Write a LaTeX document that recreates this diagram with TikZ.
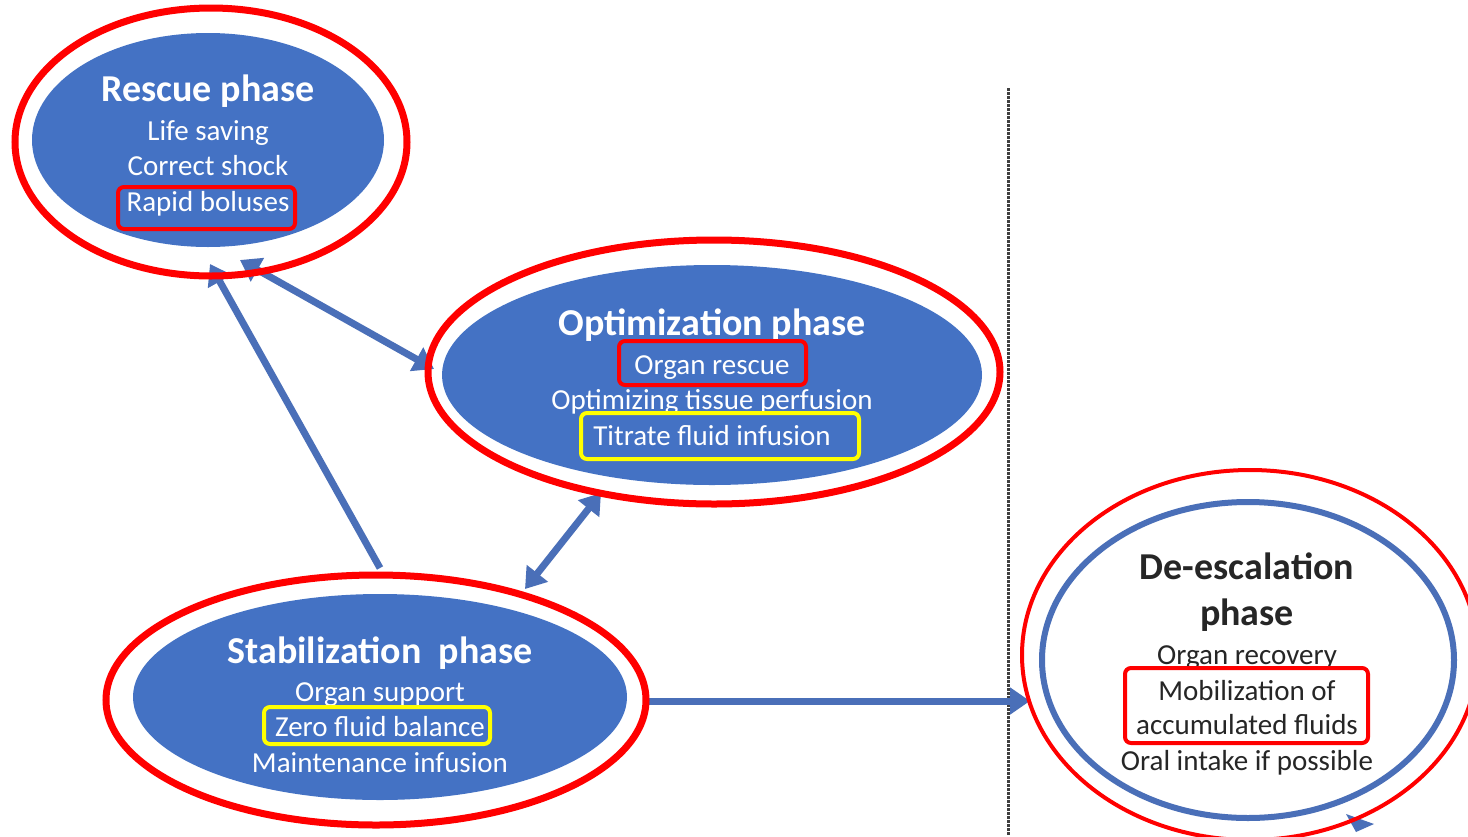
\documentclass[tikz,border=0pt]{standalone}
\usepackage{fontspec}
\setmainfont{Carlito}
\usetikzlibrary{shapes.geometric,arrows.meta}

\definecolor{phaseblue}{HTML}{4472C4}
\definecolor{arrowblue}{HTML}{4A6FB8}
\definecolor{markred}{HTML}{FF0000}
\definecolor{markyellow}{HTML}{FFFF00}
\definecolor{inktext}{HTML}{262626}

\tikzset{
  phase/.style={ellipse, fill=phaseblue, draw=none, inner sep=0pt},
  openphase/.style={ellipse, fill=white, draw=arrowblue, line width=6pt, inner sep=0pt},
  ring/.style={ellipse, draw=markred, line width=7pt, inner sep=0pt},
  thinring/.style={ring, line width=4pt},
  ttl/.style={font=\fontsize{38}{44}\selectfont\bfseries, anchor=base, text=white, inner sep=0pt},
  itm/.style={font=\fontsize{29}{34}\selectfont, anchor=base, text=white, inner sep=0pt},
  hl/.style={rectangle, rounded corners=6pt, line width=4pt, inner sep=0pt},
  flow/.style={line width=7pt, draw=arrowblue, -{Triangle[length=20pt,width=26pt]}},
  twoway/.style={line width=7pt, draw=arrowblue, {Triangle[length=20pt,width=26pt]}-{Triangle[length=20pt,width=26pt]}},
  divider/.style={draw=black!75, line width=3pt, dash pattern=on 2.5pt off 1.5pt},
}

\begin{document}
\begin{tikzpicture}[x=1pt, y=-1pt]
  \clip (0,0) rectangle (1468,836);
  \fill[white] (0,0) rectangle (1468,836);

  % phase-change divider
  \coordinate (divTop) at (1008,88);
  \coordinate (divBot) at (1008,836);
  \draw[divider] (divTop) -- (divBot);

  % connector end points
  \coordinate (stabOut) at (380,568);
  \coordinate (rescueIn) at (210,264);
  \coordinate (rescueOpt) at (240,260);
  \coordinate (optRescue) at (434,369);
  \coordinate (optStab) at (601,493);
  \coordinate (stabOpt) at (525,589);
  \coordinate (stabRight) at (648,701);
  \coordinate (deescIn) at (1030,701);

  \draw[flow] (stabOut) -- (rescueIn);
  \draw[twoway] (rescueOpt) -- (optRescue);
  \draw[twoway] (optStab) -- (stabOpt);
  \draw[flow] (stabRight) -- (deescIn);

  % phase ellipses
  \node[phase, minimum width=352, minimum height=214] (rescue) at (208,140) {};
  \node[phase, minimum width=540, minimum height=220] (optim) at (712,375) {};
  \node[phase, minimum width=494, minimum height=206] (stab) at (380,697) {};
  \node[openphase, minimum width=412, minimum height=316] (deesc) at (1248,660) {};

  % partly hidden tip below the de-escalation phase
  \fill[arrowblue] (1346,814) -- (1374,824) -- (1356,832) -- cycle;

  % rescue phase text
  \node[ttl] (rescueT) at (208,101) {Rescue phase};
  \node[itm] (rescue1) at (208,140) {Life saving};
  \node[itm] (rescue2) at (208,175) {Correct shock};
  \node[itm] (rescue3) at (208,211) {Rapid boluses};

  % optimization phase text
  \node[ttl] (optimT) at (712,335) {Optimization phase};
  \node[itm] (optim1) at (712,374) {Organ rescue};
  \node[itm] (optim2) at (712,409) {Optimizing tissue perfusion};
  \node[itm] (optim3) at (712,445) {Titrate fluid infusion};

  % stabilization phase text
  \node[ttl] (stabT) at (380,663) {Stabilization\ \ phase};
  \node[itm] (stab1) at (380,701) {Organ support};
  \node[itm] (stab2) at (380,736) {Zero fluid balance};
  \node[itm] (stab3) at (380,772) {Maintenance infusion};

  % de-escalation phase text
  \node[ttl, text=inktext] (deescT1) at (1247,579) {De-escalation};
  \node[ttl, text=inktext] (deescT2) at (1247,625) {phase};
  \node[itm, text=inktext] (deesc1) at (1247,664) {Organ recovery};
  \node[itm, text=inktext] (deesc2) at (1247,700) {Mobilization of};
  \node[itm, text=inktext] (deesc3) at (1247,734) {accumulated fluids};
  \node[itm, text=inktext] (deesc4) at (1247,770) {Oral intake if possible};

  % red rings
  \node[ring, minimum width=392, minimum height=268] (rescueRing) at (211,142) {};
  \node[ring, minimum width=572, minimum height=264] (optimRing) at (714,372) {};
  \node[ring, minimum width=540, minimum height=250] (stabRing) at (376,700) {};
  \node[thinring, minimum width=456, minimum height=370] (deescRing) at (1250,655) {};

  % highlight boxes
  \node[hl, draw=markred, minimum width=177, minimum height=42] (rescueBox) at (206.5,208) {};
  \node[hl, draw=markred, minimum width=187, minimum height=44] (optimBox1) at (712.5,363) {};
  \node[hl, draw=markyellow, minimum width=278, minimum height=46] (optimBox2) at (720,436) {};
  \node[hl, draw=markyellow, minimum width=226, minimum height=37] (stabBox) at (377,725.5) {};
  \node[hl, draw=markred, minimum width=243, minimum height=75] (deescBox) at (1246.5,705.5) {};
\end{tikzpicture}
\end{document}
